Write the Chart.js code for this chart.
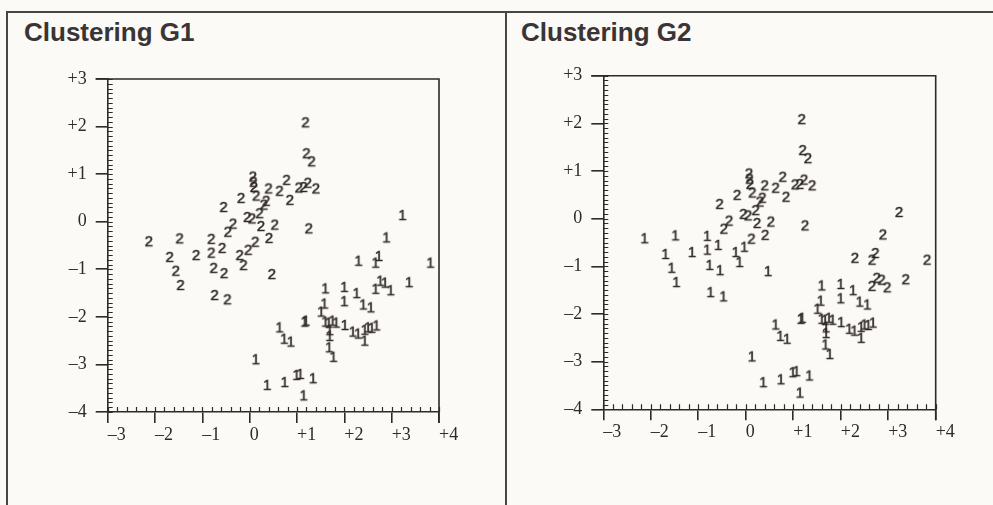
<!DOCTYPE html>
<html><head><meta charset="utf-8">
<script src="https://cdn.jsdelivr.net/npm/chart.js@4.4.1/dist/chart.umd.min.js"></script>
<style>
html,body{margin:0;padding:0;background:#fbfaf6;}
#wrap{position:relative;width:993px;height:505px;overflow:hidden;background:#fbfaf6;}
.title{position:absolute;top:17px;line-height:30px;font-family:"Liberation Sans",Arial,sans-serif;font-weight:bold;font-size:26px;color:#3a3434;white-space:nowrap;}
canvas{position:absolute;top:0;}
.line{position:absolute;background:#4a4444;}
</style></head>
<body><div id="wrap">
<div class="line" style="left:7px;top:11px;width:986px;height:2px"></div>
<div class="line" style="left:6px;top:11px;width:2px;height:494px"></div>
<div class="line" style="left:505px;top:11px;width:2px;height:494px"></div>
<div class="title" style="left:24px">Clustering G1</div>
<div class="title" style="left:521px">Clustering G2</div>
<canvas id="c1" width="505" height="505" style="left:0"></canvas>
<canvas id="c2" width="488" height="505" style="left:505px"></canvas>
</div>
<script>
// ---- data (same observations, two clusterings) ----
const xValues = [
  1.18, 1.20, 1.31, 0.07, 0.08, 0.09, 0.40, 0.78, 0.63, 0.85, 1.04, 1.14, 1.23, 1.40,
  -0.18, 0.14, 0.35, 0.30, -0.55, 0.21, -0.05, 0.05, -0.35, -0.46, 0.24, 0.53, 0.41, 0.12, 1.25,
  -2.13, -1.48, -0.81, -1.69, -1.13, -0.81, -0.58, -1.56, -1.46, -0.76, -0.54, -0.74, -0.47, -0.21, -0.13, -0.03, 0.47,
  3.23, 2.89, 2.30, 2.66, 2.73, 3.82, 2.66, 2.76, 2.86, 2.98, 3.37,
  1.60, 2.00, 2.26, 2.00, 2.40, 2.56, 1.58, 1.51, 1.16, 1.19, 1.60, 1.67, 1.75, 1.83, 1.69, 1.69,
  2.01, 2.18, 2.29, 2.43, 2.43, 2.50, 2.58, 2.68, 0.63, 0.73, 0.87, 1.68, 1.77, 0.13, 0.37, 0.74, 0.99, 1.07, 1.34, 1.14
];
const yValues = [
  2.09, 1.44, 1.27, 0.95, 0.84, 0.73, 0.70, 0.88, 0.65, 0.46, 0.72, 0.73, 0.82, 0.70,
  0.50, 0.55, 0.44, 0.36, 0.31, 0.18, 0.10, 0.07, -0.04, -0.21, -0.09, -0.06, -0.34, -0.42, -0.14,
  -0.41, -0.35, -0.36, -0.74, -0.70, -0.65, -0.55, -1.03, -1.33, -0.97, -1.08, -1.54, -1.63, -0.70, -0.91, -0.59, -1.10,
  0.14, -0.33, -0.82, -0.86, -0.72, -0.86, -1.41, -1.24, -1.28, -1.44, -1.27,
  -1.40, -1.37, -1.50, -1.67, -1.74, -1.80, -1.72, -1.89, -2.10, -2.08, -2.10, -2.12, -2.08, -2.12, -2.28, -2.40,
  -2.17, -2.31, -2.35, -2.27, -2.50, -2.22, -2.23, -2.18, -2.22, -2.46, -2.52, -2.64, -2.84, -2.89, -3.43, -3.37, -3.22, -3.20, -3.29, -3.65
];
const clusterG1 = [
  2,2,2,2,2,2,2,2,2,2,2,2,2,2,
  2,2,2,2,2,2,2,2,2,2,2,2,2,2,2,
  2,2,2,2,2,2,2,2,2,2,2,2,2,2,2,2,2,
  1,1,1,1,1,1,1,1,1,1,1,
  1,1,1,1,1,1,1,1,1,1,1,1,1,1,1,1,
  1,1,1,1,1,1,1,1,1,1,1,1,1,1,1,1,1,1,1,1
];
const clusterG2 = [
  2,2,2,2,2,2,2,2,2,2,2,2,2,2,
  2,2,2,2,2,2,2,2,2,2,2,2,2,2,2,
  1,1,1,1,1,1,1,1,1,1,1,1,1,1,1,1,1,
  2,2,2,2,2,2,2,2,2,2,2,
  1,1,1,1,1,1,1,1,1,1,1,1,1,1,1,1,
  1,1,1,1,1,1,1,1,1,1,1,1,1,1,1,1,1,1,1,1
];
const clusterIds = [1, 2];
const xTickRange = [-3, 4];
const yTickRange = [-4, 3];

// ---- styling ----
const INK = '#2f2929';
function glyph(txt){
  const c = document.createElement('canvas');
  c.width = 14; c.height = 18;
  const g = c.getContext('2d');
  g.fillStyle = INK; g.strokeStyle = INK; g.lineWidth = 0.5;
  g.font = '15px "Liberation Sans", Arial, sans-serif';
  g.textAlign = 'center';
  g.textBaseline = 'alphabetic';
  const by = 9 + 0.358*15;
  g.fillText(txt, 7, by);
  g.strokeText(txt, 7, by);
  return c;
}
const fmt = v => v > 0 ? '+' + v : (v < 0 ? '\u2013' + (-v) : '0');

const frame = {
  id: 'frame',
  afterDraw(chart){
    const {ctx, chartArea: a, scales: {x, y}} = chart;
    ctx.save();
    ctx.strokeStyle = INK; ctx.lineWidth = 1.2;
    ctx.beginPath();
    for (let v = Math.round(y.min*10); v <= Math.round(y.max*10); v++){
      const py = Math.round(y.getPixelForValue(v/10)) + 0.5;
      ctx.moveTo(a.left, py); ctx.lineTo(a.left + 5, py);
    }
    for (let v = Math.round(x.min*5); v <= Math.round(x.max*5); v++){
      const px = Math.round(x.getPixelForValue(v/5)) + 0.5;
      ctx.moveTo(px, a.bottom); ctx.lineTo(px, a.bottom - 5);
    }
    ctx.stroke();
    ctx.lineWidth = 1.6;
    ctx.beginPath();
    ctx.moveTo(a.left - 12, a.top); ctx.lineTo(a.right, a.top); ctx.lineTo(a.right, a.bottom + 11);
    ctx.stroke();
    ctx.restore();
  }
};

function makeChart(id, labels, pad){
  const datasets = clusterIds.map(c => ({
    label: 'Cluster ' + c,
    data: xValues.map((x, i) => ({x: x, y: yValues[i], c: labels[i]})).filter(p => p.c === c),
    pointStyle: glyph(String(c)),
    pointRadius: 5,
    showLine: false
  }));
  const tickFont = {family: '"Liberation Serif", "Times New Roman", serif', size: 18};
  return new Chart(document.getElementById(id), {
    type: 'scatter',
    data: {datasets},
    options: {
      responsive: false, animation: false,
      layout: {padding: pad, autoPadding: false},
      plugins: {legend: {display: false}, tooltip: {enabled: false}},
      scales: {
        x: {
          type: 'linear', min: xTickRange[0], max: xTickRange[1],
          ticks: {stepSize: 1, align: 'start', padding: 1, color: INK, font: tickFont, callback: fmt},
          grid: {drawOnChartArea: false, drawTicks: true, tickLength: 11, color: INK, lineWidth: 1.6},
          border: {display: true, color: INK, width: 1.6},
          afterFit: s => { s.height = 30; }
        },
        y: {
          type: 'linear', min: yTickRange[0], max: yTickRange[1],
          ticks: {stepSize: 1, padding: 9, color: INK, font: tickFont, callback: fmt},
          grid: {drawOnChartArea: false, drawTicks: true, tickLength: 12, color: INK, lineWidth: 1.6},
          border: {display: true, color: INK, width: 1.6},
          afterFit: s => { s.width = 40; }
        }
      }
    },
    plugins: [frame]
  });
}
makeChart('c1', clusterG1, {left: 67.7, top: 79, right: 66, bottom: 63});
makeChart('c2', clusterG2, {left: 58.3, top: 75.7, right: 57.3, bottom: 65.7});
</script>
</body></html>
